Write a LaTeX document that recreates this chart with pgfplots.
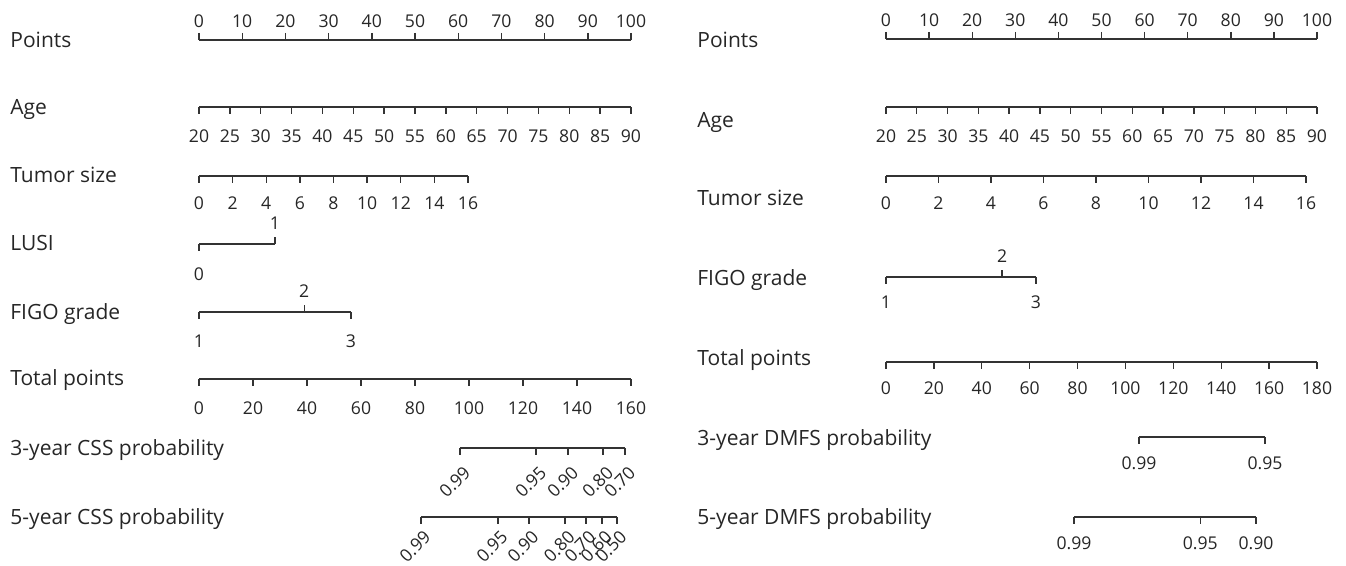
\documentclass[border=0pt]{standalone}
\usepackage{fontspec}
\setmainfont{Open Sans}
\usepackage{pgfplots}
\pgfplotsset{compat=1.18}
\definecolor{linec}{HTML}{333333}
\definecolor{textc}{HTML}{262626}
\newcommand{\tickfont}{\fontsize{8.8}{10.5}\selectfont}
\newcommand{\namefont}{\fontsize{10.5}{12.6}\selectfont}
\pgfplotsset{
  nomo/.style={
    scale only axis, height=10pt, ymin=0, ymax=1,
    axis y line=none, clip=false,
    axis line style={draw=linec, line width=0.7pt, -},
    x axis line style={-},
    tick style={draw=linec, line width=0.7pt},
    tick align=outside, major tick length=3.5pt,
    minor x tick num=0,
    xticklabel style={font=\tickfont, text=textc},
    /pgf/number format/assume math mode=true,
    scaled x ticks=false,
  },
  bot/.style={nomo, axis x line*=bottom, anchor=south west},
  top/.style={nomo, axis x line*=top, anchor=north west},
  upper/.style={nodes near coords, point meta=explicit symbolic, draw=none, mark=none,
     nodes near coords style={font=\tickfont, text=textc, anchor=south, yshift=0pt}},
  uptick/.style={draw=linec, line width=0.7pt, mark=none},
  rot/.style={xticklabel style={anchor=center, xshift=#1, rotate=45}},
}
\begin{document}
\begin{tikzpicture}
\useasboundingbox (0,0) rectangle (673pt,-283pt);
% ---------------- names, left
\begin{scope}[every node/.style={anchor=base west, font=\namefont, text=textc, inner sep=0pt}]
\node at (5pt,-23.8pt) {Points};
\node at (5pt,-57.3pt) {Age};
\node at (5pt,-91.3pt) {Tumor size};
\node at (5pt,-125.3pt) {LUSI};
\node at (5pt,-159.8pt) {FIGO grade};
\node at (5pt,-192.8pt) {Total points};
\node at (5pt,-227.8pt) {3-year CSS probability};
\node at (5pt,-262.3pt) {5-year CSS probability};
% ---------------- names, right
\node at (348.5pt,-23.8pt) {Points};
\node at (348.5pt,-63.8pt) {Age};
\node at (348.5pt,-102.8pt) {Tumor size};
\node at (348.5pt,-142.8pt) {FIGO grade};
\node at (348.5pt,-182.8pt) {Total points};
\node at (348.5pt,-222.8pt) {3-year DMFS probability};
\node at (348.5pt,-262.3pt) {5-year DMFS probability};
\end{scope}
% ================= LEFT PANEL
\begin{axis}[top, at={(99.5pt,-20pt)}, width=216pt, xmin=0, xmax=100, xtick={0,10,...,100}, xticklabel shift=-0.8pt]
\end{axis}
\begin{axis}[bot, at={(99.5pt,-53.5pt)}, width=216pt, xmin=20, xmax=90, xtick={20,25,...,90}, xticklabel shift=4.3pt]
\end{axis}
\begin{axis}[bot, at={(99.5pt,-88pt)}, width=134.5pt, xmin=0, xmax=16, xtick={0,2,...,16}, xticklabel shift=3.3pt]
\end{axis}
\begin{axis}[bot, at={(99.5pt,-122pt)}, width=38pt, xmin=0, xmax=17.6, xtick={0}, xticklabels={0}, xticklabel shift=4.8pt]
\addplot[uptick] coordinates {(17.6,0) (17.6,0.35)};
\addplot[upper] coordinates {(17.6,0.35) [1]};
\end{axis}
\begin{axis}[bot, at={(99.5pt,-156pt)}, width=76pt, xmin=0, xmax=35.4, xtick={0,35.4}, xticklabels={1,3}, xticklabel shift=4.3pt]
\addplot[uptick] coordinates {(24.5,0) (24.5,0.35)};
\addplot[upper] coordinates {(24.5,0.35) [2]};
\end{axis}
\begin{axis}[bot, at={(99.5pt,-189.5pt)}, width=216pt, xmin=0, xmax=160, xtick={0,20,...,160}, xticklabel shift=4.3pt]
\end{axis}
\begin{axis}[bot, at={(230pt,-224pt)}, width=82.5pt, xmin=96.7, xmax=157.8,
  xtick={96.7,124.8,136.7,149.6,157.8}, xticklabels={0.99,0.95,0.90,0.80,0.70},
  rot=-2.6pt, xticklabel shift=13.5pt]
\end{axis}
\begin{axis}[bot, at={(210.5pt,-258.5pt)}, width=98pt, xmin=82.2, xmax=154.8,
  xtick={82.2,110.7,122.2,135.6,143.3,149.3,154.8}, xticklabels={0.99,0.95,0.90,0.80,0.70,0.60,0.50},
  rot=-3pt, xticklabel shift=11.2pt]
\end{axis}
% ================= RIGHT PANEL
\begin{axis}[top, at={(443pt,-19.5pt)}, width=215.5pt, xmin=0, xmax=100, xtick={0,10,...,100}, xticklabel shift=-0.8pt]
\end{axis}
\begin{axis}[bot, at={(443pt,-53.5pt)}, width=215.5pt, xmin=20, xmax=90, xtick={20,25,...,90}, xticklabel shift=4.3pt]
\end{axis}
\begin{axis}[bot, at={(443pt,-88pt)}, width=210pt, xmin=0, xmax=16, xtick={0,2,...,16}, xticklabel shift=3.5pt]
\end{axis}
\begin{axis}[bot, at={(443pt,-138.5pt)}, width=75pt, xmin=0, xmax=34.9, xtick={0,34.9}, xticklabels={1,3}, xticklabel shift=2.5pt]
\addplot[uptick] coordinates {(27.0,0) (27.0,0.35)};
\addplot[upper] coordinates {(27.0,0.35) [2]};
\end{axis}
\begin{axis}[bot, at={(443pt,-181pt)}, width=215.5pt, xmin=0, xmax=180, xtick={0,20,...,180}, xticklabel shift=2.8pt]
\end{axis}
\begin{axis}[bot, at={(569.5pt,-218.5pt)}, width=63pt, xmin=105.7, xmax=158.3,
  xtick={105.7,158.3}, xticklabels={0.99,0.95}, xticklabel shift=2.8pt]
\end{axis}
\begin{axis}[bot, at={(537pt,-258.5pt)}, width=91pt, xmin=78.5, xmax=154.5,
  xtick={78.5,131.2,154.5}, xticklabels={0.99,0.95,0.90}, xticklabel shift=2.8pt]
\end{axis}
\end{tikzpicture}
\end{document}
